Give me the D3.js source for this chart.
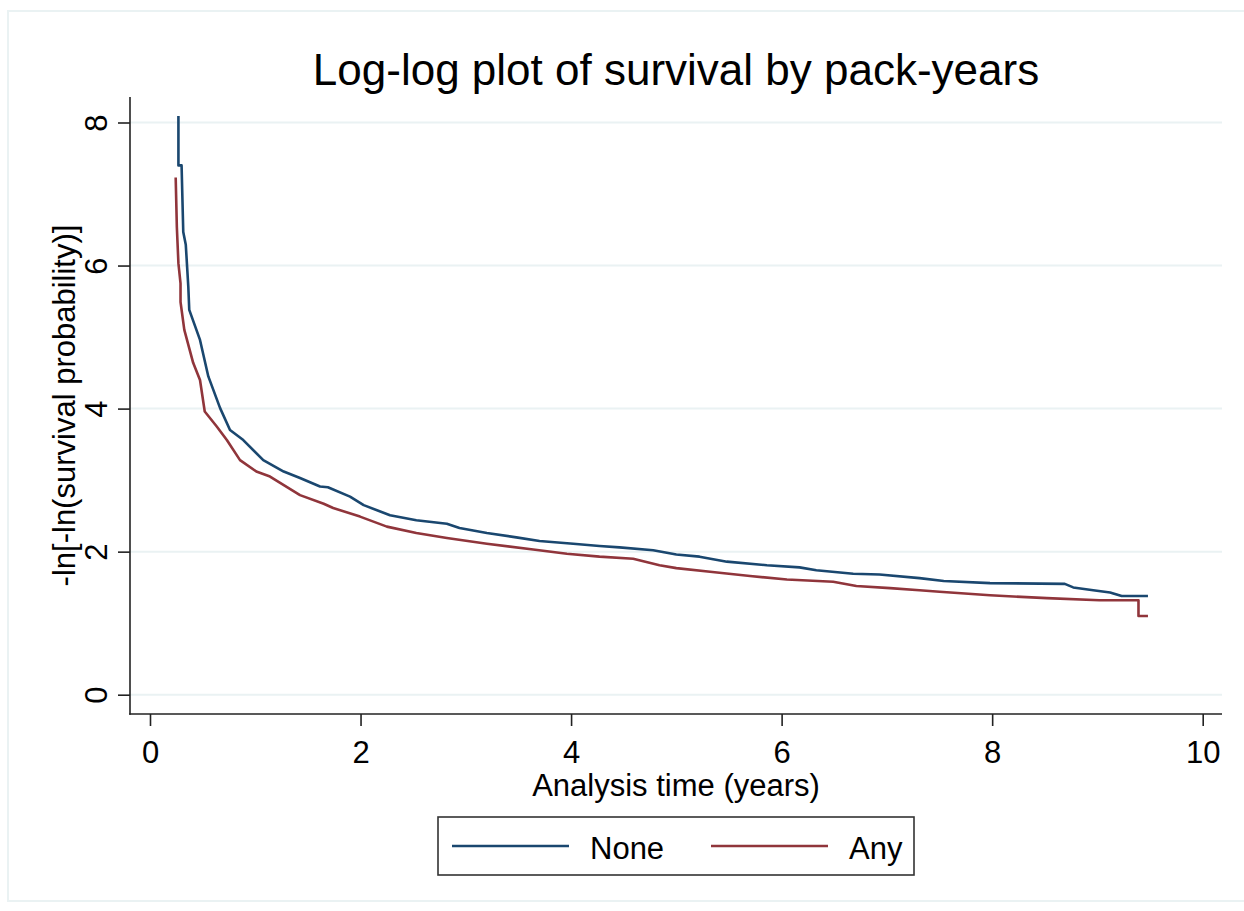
<html lang="en">
<head>
  <meta charset="UTF-8"/>
  <title>Log-log plot of survival by pack-years</title>
  <script src="https://d3js.org/d3.v7.min.js"></script>
  <style>
body {
  margin: 0;
  background: #fff;
  font-family: 'Liberation Sans', Arial, sans-serif;
}

svg {
  display: block;
}

text {
  fill: #000;
}

.grid line {
  stroke: #eaf2f3;
  stroke-width: 2;
}

.axis line, .axis-line {
  stroke: #222;
  stroke-width: 1.6;
}

.tick text {
  font-size: 31px;
}

text.title {
  font-size: 44px;
}

text.label {
  font-size: 31px;
}

.curve {
  fill: none;
  stroke-width: 2.6;
  stroke-linejoin: round;
}
  </style>
</head>
<body>
  <svg width="1244" height="911"></svg>
  <script>

// series names and their colours (Stata s2color navy / maroon)
const seriesNames = ['None', 'Any'];
const seriesColors = ['#1a476f', '#90353b'];

// [analysis time, -ln(-ln S)]
const noneSteps = [
  [0.27, 8.09], [0.27, 7.40], [0.30, 7.40], [0.316, 6.47], [0.34, 6.29],
  [0.364, 5.70], [0.373, 5.38], [0.475, 4.96], [0.554, 4.45], [0.665, 4.01],
  [0.76, 3.70], [0.886, 3.56], [1.076, 3.28], [1.27, 3.12], [1.425, 3.03],
  [1.615, 2.91], [1.69, 2.90], [1.90, 2.77], [2.03, 2.65], [2.28, 2.51],
  [2.53, 2.44], [2.82, 2.39], [2.94, 2.33], [3.20, 2.26], [3.48, 2.20],
  [3.70, 2.15], [4.02, 2.11], [4.27, 2.08], [4.46, 2.06], [4.78, 2.02],
  [5.00, 1.96], [5.22, 1.93], [5.48, 1.86], [5.86, 1.81], [6.17, 1.78],
  [6.33, 1.74], [6.68, 1.69], [6.93, 1.68], [7.31, 1.63], [7.54, 1.59],
  [7.98, 1.56], [8.69, 1.55], [8.77, 1.50], [8.96, 1.46], [9.12, 1.43],
  [9.23, 1.38], [9.48, 1.38]
];

const anySteps = [
  [0.244, 7.23], [0.255, 6.54], [0.27, 6.03], [0.29, 5.75], [0.29, 5.49],
  [0.326, 5.10], [0.41, 4.64], [0.475, 4.40], [0.52, 3.96], [0.634, 3.75],
  [0.73, 3.56], [0.855, 3.28], [1.01, 3.12], [1.14, 3.05], [1.425, 2.79],
  [1.65, 2.67], [1.74, 2.61], [1.995, 2.49], [2.25, 2.35], [2.53, 2.26],
  [2.82, 2.19], [3.20, 2.11], [3.64, 2.03], [3.96, 1.97], [4.27, 1.93],
  [4.59, 1.90], [4.84, 1.81], [5.00, 1.77], [5.32, 1.72], [5.70, 1.66],
  [6.05, 1.61], [6.49, 1.58], [6.71, 1.52], [7.03, 1.49], [7.31, 1.46],
  [7.50, 1.44], [7.98, 1.39], [8.52, 1.35], [9.02, 1.32], [9.39, 1.32],
  [9.39, 1.10], [9.48, 1.10]
];

const xTicks = [0, 2, 4, 6, 8, 10];
const yTicks = [0, 2, 4, 6, 8];

const svg = d3.select('svg');

// plot region
const plotLeft = 130, plotRight = 1222, plotTop = 97, plotBottom = 714;

const xScale = d3.scaleLinear().domain([0, 10]).range([150, 1202.7]);
const yScale = d3.scaleLinear().domain([0, 8]).range([694.7, 122.5]);

// faint outer frame
svg.append('rect')
  .attr('x', 8).attr('y', 11)
  .attr('width', 1250).attr('height', 890)
  .attr('fill', 'none')
  .attr('stroke', '#eaf2f3')
  .attr('stroke-width', 2);

// horizontal grid lines
svg.append('g')
  .attr('class', 'grid')
  .selectAll('line')
  .data(yTicks)
  .enter()
  .append('line')
  .attr('x1', plotLeft).attr('x2', plotRight)
  .attr('y1', (d) => yScale(d)).attr('y2', (d) => yScale(d));

// axes
const xAxis = svg.append('g')
  .attr('class', 'axis')
  .attr('transform', `translate(0, ${plotBottom})`)
  .call(d3.axisBottom(xScale).tickValues(xTicks).tickSize(12).tickSizeOuter(0));
xAxis.select('.domain').remove();
xAxis.selectAll('.tick text')
  .attr('font-family', null).attr('font-size', null)
  .attr('dy', null).attr('y', 49);

const yAxis = svg.append('g')
  .attr('class', 'axis')
  .attr('transform', `translate(${plotLeft}, 0)`)
  .call(d3.axisLeft(yScale).tickValues(yTicks).tickSize(12).tickSizeOuter(0));
yAxis.select('.domain').remove();
yAxis.selectAll('.tick text')
  .attr('font-family', null).attr('font-size', null)
  .attr('x', null).attr('dy', null)
  .attr('text-anchor', 'middle')
  .attr('transform', 'translate(-23, 0) rotate(-90)');

svg.append('line').attr('class', 'axis-line')
  .attr('x1', plotLeft).attr('x2', plotLeft).attr('y1', plotTop).attr('y2', plotBottom + 0.8);
svg.append('line').attr('class', 'axis-line')
  .attr('x1', plotLeft - 0.8).attr('x2', plotRight).attr('y1', plotBottom).attr('y2', plotBottom);

// curves
const line = d3.line()
  .x((d) => xScale(d[0]))
  .y((d) => yScale(d[1]));

[noneSteps, anySteps].forEach((s, i) => {
  svg.append('path')
    .attr('class', 'curve')
    .attr('stroke', seriesColors[i])
    .attr('d', line(s));
});

// titles
svg.append('text')
  .attr('class', 'title')
  .attr('x', (plotLeft + plotRight) / 2)
  .attr('y', 85)
  .attr('text-anchor', 'middle')
  .text('Log-log plot of survival by pack-years');

svg.append('text')
  .attr('class', 'label')
  .attr('x', (plotLeft + plotRight) / 2)
  .attr('y', 796)
  .attr('text-anchor', 'middle')
  .text('Analysis time (years)');

svg.append('text')
  .attr('class', 'label')
  .attr('transform', `translate(75, ${(plotTop + plotBottom) / 2}) rotate(-90)`)
  .attr('text-anchor', 'middle')
  .text('-ln[-ln(survival probability)]');

// legend
const legend = svg.append('g');
legend.append('rect')
  .attr('x', 438).attr('y', 817)
  .attr('width', 476).attr('height', 58)
  .attr('fill', '#fff')
  .attr('stroke', '#333')
  .attr('stroke-width', 1.6);

const legendX = [452, 711];
seriesNames.forEach((name, i) => {
  legend.append('line')
    .attr('x1', legendX[i]).attr('x2', legendX[i] + 117)
    .attr('y1', 846).attr('y2', 846)
    .attr('stroke', seriesColors[i])
    .attr('stroke-width', 2.6);
  legend.append('text')
    .attr('class', 'label')
    .attr('x', legendX[i] + 138)
    .attr('y', 859)
    .text(name);
});

  </script>
</body>
</html>
